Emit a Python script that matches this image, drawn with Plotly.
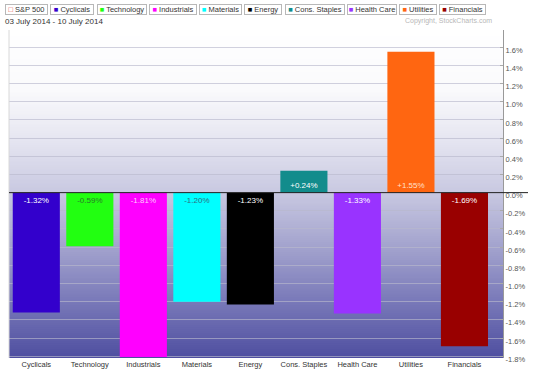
import plotly.graph_objects as go

# ---------------- data ----------------
CATEGORIES = ["Cyclicals", "Technology", "Industrials", "Materials", "Energy",
              "Cons. Staples", "Health Care", "Utilities", "Financials"]
VALUES = [-1.32, -0.59, -1.81, -1.20, -1.23, 0.24, -1.33, 1.55, -1.69]
BAR_COLORS = ["#3300cc", "#22ff11", "#ff00ff", "#00ffff", "#000000",
              "#128c8c", "#9933ff", "#ff6611", "#990000"]
LABEL_COLORS = ["#ffffff", "#2a7a2a", "#ffc8ff", "#336c80", "#ffffff",
                "#ffffff", "#ffffff", "#ffe0cc", "#ffffff"]
LEGEND_NAMES = ["S&amp;P 500"] + CATEGORIES
LEGEND_COLORS = ["#e04040"] + BAR_COLORS
Y_TICKS = [-1.8, -1.6, -1.4, -1.2, -1.0, -0.8, -0.6, -0.4, -0.2, 0.0,
           0.2, 0.4, 0.6, 0.8, 1.0, 1.2, 1.4, 1.6]
Y_TICK_LABELS = [f"{v:.1f}%" for v in Y_TICKS]
DATE_RANGE = "03 July 2014 - 10 July 2014"
COPYRIGHT = "Copyright, StockCharts.com"

# ---------------- layout geometry ----------------
W, H = 534, 378
ML, MR, MT, MB = 9, 31, 30, 17
PW = W - ML - MR
PH = H - MT - MB
FONT = "Arial, Liberation Sans, sans-serif"


def px_x(px):
    return (px - ML) / PW


def px_y(py):
    return (H - MB - py) / PH


fig = go.Figure()
fig.add_trace(go.Bar(
    x=CATEGORIES, y=VALUES,
    marker=dict(color=BAR_COLORS, line=dict(width=0)),
    text=[f"{v:+.2f}%" for v in VALUES],
    textposition="inside", insidetextanchor="start", textangle=0,
    textfont=dict(family=FONT, size=8, color=LABEL_COLORS),
    hoverinfo="x+y", showlegend=False,
))

shapes = []
# gradient background
stops = [(30, (255, 255, 255)), (90, (250, 250, 252)), (140, (230, 230, 241)),
         (194, (200, 200, 225)), (250, (162, 162, 205)), (300, (124, 124, 186)),
         (361, (78, 78, 160))]


def col_at(py):
    for (y0, c0), (y1, c1) in zip(stops[:-1], stops[1:]):
        if y0 <= py <= y1:
            t = (py - y0) / (y1 - y0)
            return tuple(round(a + (b - a) * t) for a, b in zip(c0, c1))
    return stops[-1][1]


step = 2
py = MT
while py < H - MB:
    c = col_at(py + step / 2)
    shapes.append(dict(type="rect", xref="paper", yref="paper",
                       x0=0, x1=1, y0=px_y(min(py + step + 1, H - MB)), y1=px_y(py),
                       fillcolor=f"rgb{c}", line=dict(width=0), layer="below"))
    py += step

# left border
shapes.append(dict(type="line", xref="paper", yref="paper", x0=0, x1=0, y0=0, y1=1,
                   line=dict(color="#d8d8d8", width=1)))
# zero line extending into axis area
shapes.append(dict(type="line", xref="paper", yref="y", x0=0, x1=px_x(528), y0=0, y1=0,
                   line=dict(color="#222222", width=1), layer="above"))

annotations = []
# legend boxes
boxes = [(5, 48), (50, 94), (97, 147), (149, 197), (199, 242), (244, 282),
         (285, 345), (347, 397), (399, 437), (439, 486)]
for i, (name, color) in enumerate(zip(LEGEND_NAMES, LEGEND_COLORS)):
    x0, x1 = boxes[i]
    glyph = "□" if i == 0 else "■"
    annotations.append(dict(
        xref="paper", yref="paper", x=px_x(x0), y=px_y(4),
        xanchor="left", yanchor="top", showarrow=False,
        text=f"<span style='color:{color}'>{glyph}</span> {name}",
        font=dict(family=FONT, size=7.5, color="#333333"),
        width=x1 - x0 - 2, height=9, align="center",
        bordercolor="#b8b8b8", borderwidth=1, borderpad=0, bgcolor="#ffffff",
    ))
annotations.append(dict(xref="paper", yref="paper", x=px_x(3), y=px_y(21),
                        xanchor="left", yanchor="middle", showarrow=False,
                        text=DATE_RANGE, font=dict(family=FONT, size=8, color="#333333")))
annotations.append(dict(xref="paper", yref="paper", x=px_x(494), y=px_y(21),
                        xanchor="right", yanchor="middle", showarrow=False,
                        text=COPYRIGHT, font=dict(family=FONT, size=7, color="#b8b8b8")))

fig.update_layout(
    width=W, height=H,
    margin=dict(l=ML, r=MR, t=MT, b=MB, pad=0),
    paper_bgcolor="#ffffff", plot_bgcolor="#ffffff",
    bargap=0.12,
    shapes=shapes, annotations=annotations,
    font=dict(family=FONT, size=8, color="#444444"),
    xaxis=dict(type="category", range=[-0.51, 8.72], showgrid=False, zeroline=False,
               showline=False, ticks="", tickfont=dict(size=7.5, color="#333333"),
               fixedrange=True),
    yaxis=dict(side="right", range=[-1.82, 1.79], tickvals=Y_TICKS, ticktext=Y_TICK_LABELS,
               showgrid=True, gridcolor="rgba(185,185,205,0.65)", gridwidth=1,
               zeroline=False, showline=True, linecolor="#999999", linewidth=1,
               ticks="inside", ticklen=3, tickcolor="#aaaaaa",
               tickfont=dict(size=7.5, color="#555555"), ticklabelshift=3,
               fixedrange=True),
)

fig.write_html("out.html", config={"displayModeBar": False},
               post_script="document.body.style.margin='0';")
